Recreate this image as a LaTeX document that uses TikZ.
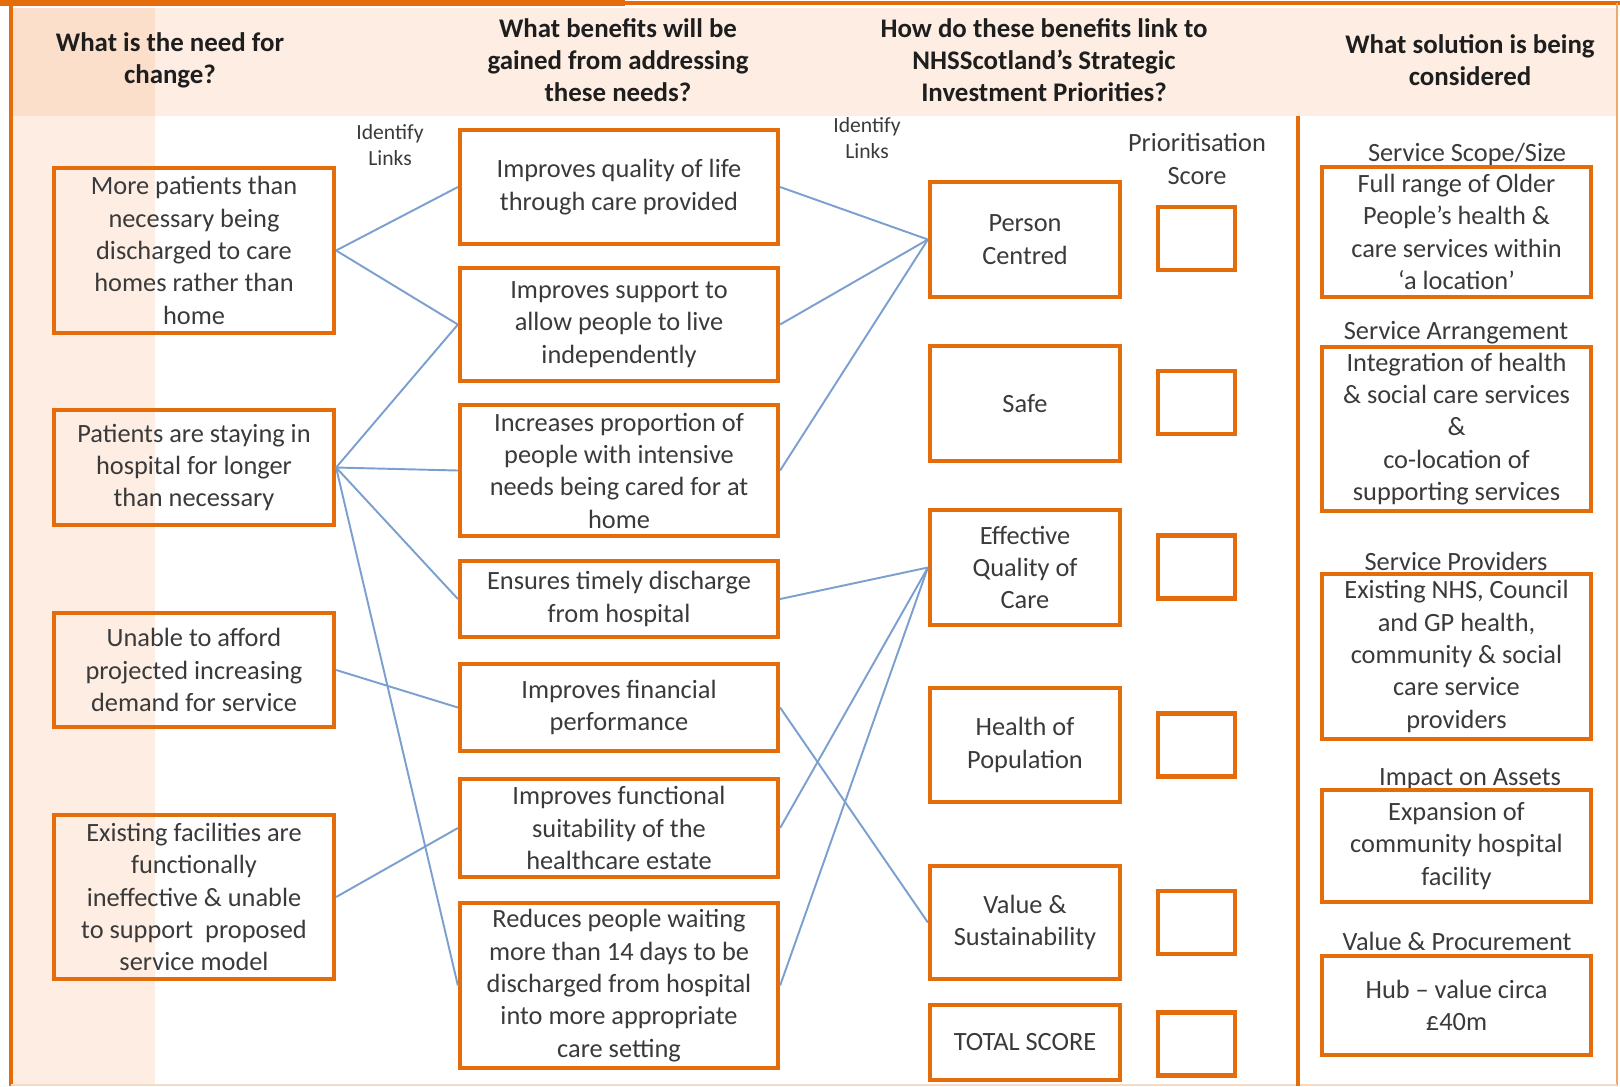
\documentclass[tikz,border=0pt]{standalone}
\usepackage{fontspec}
\setmainfont{Carlito}
\definecolor{nhsorange}{HTML}{E46C0A}
\definecolor{peach}{HTML}{FDEDE2}
\definecolor{peachdark}{HTML}{FBDFCB}
\definecolor{linkblue}{HTML}{7BA0D0}
\definecolor{textgrey}{HTML}{3A3A3A}
\definecolor{headgrey}{HTML}{1E1E1E}

\begin{document}
\begin{tikzpicture}[x=0.2mm, y=-0.2mm,
        every node/.style={align=center, text=textgrey, font=\fontsize{15}{18.4}\selectfont},
        headtext/.style={text=headgrey, font=\fontsize{15.3}{18.2}\selectfont\bfseries},
        smalltext/.style={font=\fontsize{12.3}{14.8}\selectfont},
        framebox/.style={draw=nhsorange, line width=2.4pt, inner sep=0pt},
        needbox/.style={framebox, minimum width=56mm},
        benefitbox/.style={framebox, minimum width=63.6mm},
        prioritybox/.style={framebox, minimum width=38mm},
        scorebox/.style={framebox, minimum width=15.4mm, minimum height=12.6mm},
        solutionbox/.style={framebox, minimum width=53.8mm},
        linkline/.style={draw=linkblue, line width=1.1pt}]
        \useasboundingbox (0,0) rectangle (1620,1086);
        \fill[peach] (12,8) rectangle (1616,116);
        \fill[peach] (12,116) rectangle (155,1086);
        \fill[peachdark] (12,8) rectangle (155,116);
        \fill[nhsorange] (0,0) rectangle (625,6);
        \draw[nhsorange, line width=2pt] (625,3) -- (1620,3);
        \draw[nhsorange, line width=2.2pt] (11,0) -- (11,1086);
        \draw[nhsorange!60, line width=0.6pt] (1617,3) -- (1617,1086);
        \draw[nhsorange!25, line width=0.6pt] (11,1085) -- (1617,1085);
        \draw[nhsorange, line width=2.2pt] (1298,116) -- (1298,1086);

        \node[headtext] (head1) at (170,60) {What is the need for\\change?};
        \node[headtext] (head2) at (618,60) {What benefits will be\\gained from addressing\\these needs?};
        \node[headtext] (head3) at (1044,60) {How do these benefits link to\\NHSScotland’s Strategic\\Investment Priorities?};
        \node[headtext] (head4) at (1470,60) {What solution is being\\considered};

        \node[smalltext] (ident1) at (390,145) {Identify\\Links};
        \node[smalltext] (ident2) at (867,138) {Identify\\Links};
        \node (prioscore) at (1197,159) {Prioritisation\\Score};

        \node[needbox, minimum height=33mm] (need1) at (194,250.5) {More patients than\\necessary being\\discharged to care\\homes rather than\\home};
        \node[needbox, minimum height=23mm] (need2) at (194,467.5) {Patients are staying in\\hospital for longer\\than necessary};
        \node[needbox, minimum height=22.8mm] (need3) at (194,670) {Unable to afford\\projected increasing\\demand for service};
        \node[needbox, minimum height=32.8mm] (need4) at (194,897) {Existing facilities are\\functionally\\ineffective \& unable\\to support\ \ proposed\\service model};

        \node[benefitbox, minimum height=22.8mm] (ben1) at (619,187) {Improves quality of life\\through care provided};
        \node[benefitbox, minimum height=22.6mm] (ben2) at (619,324.5) {Improves support to\\allow people to live\\independently};
        \node[benefitbox, minimum height=26.2mm] (ben3) at (619,470.5) {Increases proportion of\\people with intensive\\needs being cared for at\\home};
        \node[benefitbox, minimum height=15.2mm] (ben4) at (619,599) {Ensures timely discharge\\from hospital};
        \node[benefitbox, minimum height=17.4mm] (ben5) at (619,707.5) {Improves financial\\performance};
        \node[benefitbox, minimum height=19.6mm] (ben6) at (619,828) {Improves functional\\suitability of the\\healthcare estate};
        \node[benefitbox, minimum height=33mm] (ben7) at (619,985.5) {Reduces people waiting\\more than 14 days to be\\discharged from hospital\\into more appropriate\\care setting};

        \node[prioritybox, minimum height=23mm] (pri1) at (1025,239.5) {Person\\Centred};
        \node[prioritybox, minimum height=23mm] (pri2) at (1025,403.5) {Safe};
        \node[prioritybox, minimum height=23mm] (pri3) at (1025,567.5) {Effective\\Quality of\\Care};
        \node[prioritybox, minimum height=22.8mm] (pri4) at (1025,745) {Health of\\Population};
        \node[prioritybox, minimum height=22.6mm] (pri5) at (1025,922.5) {Value \&\\Sustainability};
        \node[prioritybox, minimum height=15mm] (pri6) at (1025,1042.5) {TOTAL SCORE};

        \node[scorebox] (score1) at (1196.5,238.5) {};
        \node[scorebox] (score2) at (1196.5,402.5) {};
        \node[scorebox] (score3) at (1196.5,567) {};
        \node[scorebox] (score4) at (1196.5,745) {};
        \node[scorebox] (score5) at (1196.5,922.5) {};
        \node[scorebox] (score6) at (1196.5,1044) {};

        \node (sollab1) at (1467,154) {Service Scope/Size};
        \node[solutionbox, minimum height=26mm] (sol1) at (1456.5,232) {Full range of Older\\People’s health \&\\care services within\\‘a location’};
        \node (sollab2) at (1456,333) {Service Arrangement};
        \node[solutionbox, minimum height=32.8mm] (sol2) at (1456.5,429) {Integration of health\\\& social care services\\\&\\co-location of\\supporting services};
        \node (sollab3) at (1456,561) {Service Providers};
        \node[solutionbox, minimum height=33mm] (sol3) at (1456.5,656.5) {Existing NHS, Council\\and GP health,\\community \& social\\care service\\providers};
        \node (sollab4) at (1470,779) {Impact on Assets};
        \node[solutionbox, minimum height=22.4mm] (sol4) at (1456.5,846) {Expansion of\\community hospital\\facility};
        \node (sollab5) at (1457,941) {Value \& Procurement};
        \node[solutionbox, minimum height=19.8mm] (sol5) at (1456.5,1005.5) {Hub – value circa\\£40m};

        \draw[linkline] (need1.east) -- (ben1.west);
        \draw[linkline] (need1.east) -- (ben2.west);
        \draw[linkline] (need2.east) -- (ben2.west);
        \draw[linkline] (need2.east) -- (ben3.west);
        \draw[linkline] (need2.east) -- (ben4.west);
        \draw[linkline] (need2.east) -- (ben7.west);
        \draw[linkline] (need3.east) -- (ben5.west);
        \draw[linkline] (need4.east) -- (ben6.west);

        \draw[linkline] (ben1.east) -- (pri1.west);
        \draw[linkline] (ben2.east) -- (pri1.west);
        \draw[linkline] (ben3.east) -- (pri1.west);
        \draw[linkline] (ben4.east) -- (pri3.west);
        \draw[linkline] (ben5.east) -- (pri5.west);
        \draw[linkline] (ben6.east) -- (pri3.west);
        \draw[linkline] (ben7.east) -- (pri3.west);
    \end{tikzpicture}
\end{document}
